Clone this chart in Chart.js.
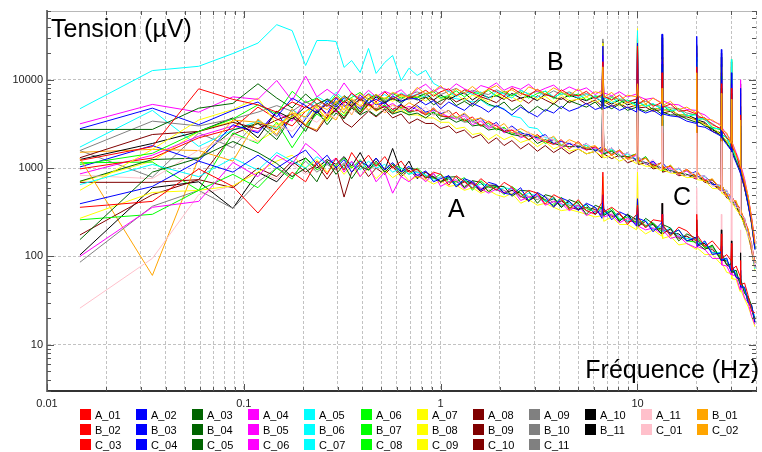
<!DOCTYPE html>
<html>
<head>
<meta charset="utf-8">
<script src="https://cdn.jsdelivr.net/npm/chart.js@4.4.1/dist/chart.umd.min.js"></script>
<style>
  html, body { margin: 0; padding: 0; background: #fff; }
</style>
</head>
<body>
<canvas id="spectre" width="762" height="452"></canvas>
<script>
// frequency of each sample (Hz)
const freq = [0.0147, 0.0343, 0.059, 0.088, 0.118, 0.147, 0.176, 0.206, 0.235, 0.265,
  0.294, 0.323, 0.353, 0.39, 0.43, 0.47, 0.52, 0.57, 0.63, 0.69,
  0.76, 0.84, 0.92, 1.0, 1.1, 1.2, 1.32, 1.45, 1.6, 1.75,
  1.92, 2.1, 2.3, 2.55, 2.8, 3.1, 3.4, 3.75, 4.1, 4.5,
  5.0, 5.5, 6.1, 6.6, 6.67, 6.74, 7.4, 8.1, 8.9, 9.9,
  10.0, 10.1, 11.0, 12.0, 13.25, 13.33, 13.42, 14.7, 16.2, 17.8,
  19.9, 20.0, 20.1, 22.0, 24.0, 26.55, 26.67, 26.8, 28.4, 29.85,
  30.0, 30.15, 31.7, 33.2, 33.33, 33.5, 35.0, 36.5, 38.0, 39.5];

// tension spectra (µV), group A
const A_01 = [360, 420, 980, 620, 310, 560, 900, 700, 1200, 850,
  1300, 950, 1500, 1100, 1400, 1050, 1350, 1000, 1200, 900,
  980, 760, 900, 850, 640, 820, 700, 590, 760, 650,
  560, 690, 610, 470, 560, 520, 390, 500, 450, 340,
  440, 330, 300, 410, 900, 320, 360, 310, 230, 300,
  380, 270, 210, 260, 250, 300, 230, 170, 215, 195,
  150, 300, 175, 130, 150, 115, 180, 95, 105, 90,
  140, 70, 78, 60, 90, 48, 50, 36, 24, 23];
const A_02 = [395, 620, 1200, 900, 1400, 1000, 1300, 1600, 1100, 1400,
  1000, 1250, 900, 1200, 1050, 1300, 950, 1150, 900, 1050,
  820, 930, 700, 760, 820, 610, 760, 700, 560, 690,
  650, 520, 500, 600, 420, 530, 470, 360, 460, 420,
  330, 400, 360, 270, 500, 350, 260, 320, 290, 220,
  450, 270, 250, 190, 240, 300, 220, 180, 200, 150,
  165, 180, 130, 150, 105, 110, 130, 90, 96, 68,
  90, 82, 58, 56, 70, 45, 45, 30, 28, 18];
const A_03 = [155, 900, 1300, 2000, 1500, 1130, 800, 1000, 700, 1200,
  850, 1100, 760, 1050, 950, 1200, 900, 1100, 850, 1000,
  960, 780, 800, 700, 790, 800, 600, 720, 690, 540,
  620, 620, 480, 560, 550, 400, 500, 470, 360, 440,
  400, 300, 380, 350, 380, 290, 330, 250, 300, 260,
  300, 220, 270, 235, 180, 240, 230, 210, 150, 180,
  160, 170, 140, 120, 135, 90, 120, 110, 80, 82,
  85, 66, 70, 48, 62, 56, 38, 35, 28, 18];
const A_04 = [100, 360, 420, 1160, 800, 1400, 1100, 1900, 1500, 1100,
  1300, 900, 1200, 800, 1050, 700, 900, 520, 800, 700,
  860, 700, 880, 620, 700, 740, 580, 690, 590, 520,
  580, 520, 600, 430, 470, 500, 380, 420, 400, 330,
  380, 290, 330, 300, 450, 280, 300, 240, 270, 230,
  320, 220, 200, 210, 180, 250, 200, 160, 170, 140,
  125, 190, 130, 120, 95, 95, 110, 80, 78, 62,
  80, 62, 60, 42, 70, 48, 34, 30, 21, 17];
const A_05 = [650, 1100, 800, 1300, 950, 1500, 1200, 1000, 1350, 1100,
  1250, 1000, 1150, 950, 1200, 1000, 1100, 900, 1000, 850,
  900, 840, 720, 800, 760, 640, 740, 600, 660, 640,
  560, 600, 580, 470, 520, 480, 420, 460, 380, 400,
  360, 380, 310, 350, 360, 300, 330, 270, 250, 290,
  280, 230, 260, 200, 220, 230, 190, 210, 170, 160,
  160, 160, 140, 145, 110, 110, 115, 95, 92, 72,
  80, 72, 66, 50, 60, 55, 40, 35, 25, 21];
const A_06 = [260, 300, 560, 850, 600, 1000, 750, 1300, 950, 1150,
  1050, 1300, 1000, 1250, 950, 1150, 900, 1100, 1000, 850,
  1000, 820, 760, 860, 690, 700, 780, 560, 720, 600,
  620, 500, 620, 520, 440, 520, 430, 380, 470, 350,
  420, 350, 320, 360, 400, 300, 350, 260, 280, 240,
  320, 270, 220, 240, 190, 270, 225, 175, 200, 150,
  145, 175, 165, 125, 130, 98, 125, 96, 92, 70,
  95, 80, 60, 55, 68, 46, 44, 31, 27, 19];
const A_07 = [270, 530, 560, 630, 900, 1200, 1400, 1000, 1250, 900,
  1100, 850, 1050, 800, 1000, 760, 950, 780, 900, 720,
  800, 740, 660, 720, 620, 640, 560, 600, 520, 560,
  500, 470, 520, 400, 440, 380, 400, 360, 330, 340,
  320, 300, 280, 290, 800, 250, 280, 230, 230, 200,
  900, 210, 180, 200, 170, 220, 160, 170, 135, 140,
  120, 160, 125, 105, 105, 82, 105, 85, 66, 64,
  70, 56, 55, 40, 52, 42, 33, 27, 21, 16];
const A_08 = [175, 500, 740, 600, 1000, 800, 1200, 900, 1100, 750,
  1050, 470, 900, 1100, 800, 1000, 850, 1050, 800, 950,
  780, 900, 800, 690, 760, 620, 700, 660, 540, 620,
  570, 520, 600, 480, 430, 480, 440, 370, 430, 360,
  340, 360, 340, 290, 420, 330, 280, 300, 250, 250,
  360, 220, 250, 200, 210, 230, 180, 205, 160, 170,
  140, 170, 155, 125, 120, 95, 110, 100, 80, 75,
  90, 68, 64, 50, 60, 52, 40, 33, 25, 20];
const A_09 = [86, 370, 560, 350, 700, 1000, 800, 1200, 900, 1100,
  950, 1150, 1000, 1200, 950, 1100, 1000, 1150, 900, 1000,
  900, 800, 860, 700, 760, 700, 620, 720, 580, 640,
  600, 560, 500, 560, 470, 440, 480, 400, 420, 380,
  380, 330, 360, 310, 380, 340, 290, 310, 240, 270,
  280, 240, 220, 240, 200, 240, 200, 200, 165, 170,
  150, 165, 150, 130, 125, 100, 112, 95, 90, 74,
  82, 74, 60, 56, 60, 48, 43, 32, 27, 20];
const A_10 = [104, 600, 700, 350, 900, 700, 1100, 1300, 1000, 1250,
  1100, 1350, 1050, 1500, 1000, 1300, 950, 1670, 900, 1200,
  760, 900, 780, 700, 820, 640, 720, 680, 560, 640,
  640, 520, 560, 520, 420, 520, 420, 450, 360, 420,
  340, 390, 300, 350, 500, 300, 330, 250, 300, 230,
  450, 250, 220, 230, 180, 400, 200, 185, 180, 150,
  160, 260, 140, 140, 110, 108, 200, 90, 90, 70,
  150, 76, 58, 54, 110, 50, 42, 30, 26, 18];
const A_11 = [26, 95, 500, 630, 900, 750, 1100, 850, 1000, 1200,
  950, 1150, 900, 1100, 950, 1050, 900, 1000, 850, 950,
  940, 720, 800, 760, 700, 720, 600, 680, 600, 560,
  640, 540, 540, 500, 480, 460, 440, 420, 390, 380,
  370, 350, 320, 330, 700, 310, 310, 270, 260, 250,
  1000, 240, 230, 210, 200, 400, 210, 185, 175, 160,
  150, 600, 145, 135, 115, 104, 300, 95, 88, 74,
  1500, 78, 60, 55, 200, 52, 40, 34, 25, 21];

// group B
const B_01 = [1290, 61, 1300, 3500, 3300, 2900, 4200, 3800, 5200, 4600,
  5600, 6500, 5100, 7000, 5900, 6800, 6100, 7200, 6600, 6400,
  8200, 6900, 7400, 8600, 6700, 7900, 7100, 8400, 7000, 7800,
  8600, 7200, 7700, 6600, 8300, 7600, 6900, 8100, 7300, 6600,
  7900, 6400, 7300, 7000, 14000, 6300, 7200, 5800, 6700, 6400,
  9000, 6600, 5300, 6200, 5400, 8000, 5100, 5700, 4600, 4900,
  4200, 12000, 4500, 3600, 3500, 3000, 7000, 2700, 2500, 1900,
  6000, 2000, 1400, 1150, 3500, 1050, 720, 480, 270, 145];
const B_02 = [1220, 1750, 7900, 6000, 5200, 4300, 5600, 4800, 6100, 5000,
  6400, 5400, 7100, 5800, 6900, 5600, 7300, 6000, 6900, 6200,
  6800, 7600, 6500, 7300, 7900, 6600, 7700, 7100, 6400, 8000,
  7300, 6500, 8100, 7000, 6600, 7800, 6800, 6400, 7700, 6800,
  6600, 7400, 6100, 6700, 16000, 6500, 5900, 6700, 5500, 6100,
  24000, 5300, 6000, 5000, 5500, 12000, 4900, 5300, 4400, 4500,
  4100, 14000, 3800, 3700, 3100, 2800, 9000, 2700, 2200, 2000,
  8000, 1750, 1450, 1000, 4000, 1050, 650, 470, 260, 140];
const B_03 = [2790, 4770, 3100, 4500, 5600, 3800, 6200, 5100, 4200, 5800,
  4900, 6300, 5200, 6700, 5500, 6000, 5300, 6600, 5700, 6100,
  6100, 5200, 5800, 4700, 5600, 5000, 4500, 5400, 4900, 4300,
  5100, 4600, 4000, 4900, 4300, 3800, 4600, 4200, 5000, 4400,
  4800, 5400, 4600, 4900, 24000, 4700, 5100, 4500, 4900, 4300,
  26000, 4600, 4200, 4500, 3900, 33000, 4100, 3900, 3800, 3400,
  3200, 31000, 3000, 2900, 2600, 2300, 22000, 2200, 1850, 1600,
  12000, 1500, 1150, 900, 8000, 850, 600, 380, 240, 120];
const B_04 = [2740, 2740, 4770, 5400, 9000, 6200, 4800, 6900, 5300, 6000,
  5200, 6600, 5700, 4300, 6100, 6800, 5600, 6200, 5400, 6500,
  5900, 6400, 5200, 5800, 6300, 5100, 5700, 5000, 6000, 5300,
  4900, 5600, 4500, 5200, 4200, 5000, 4400, 5400, 4700, 5800,
  5300, 4900, 5600, 4600, 12000, 5200, 4700, 5300, 4500, 4900,
  18000, 4700, 4400, 4800, 4100, 15000, 4300, 4000, 4000, 3600,
  3300, 12000, 3400, 3000, 2800, 2300, 8000, 2300, 1900, 1650,
  7000, 1600, 1200, 950, 3000, 900, 600, 390, 240, 125];
const B_05 = [3170, 5260, 4300, 6400, 6000, 9800, 5800, 11000, 6400, 7800,
  6600, 9200, 7000, 6100, 7600, 6400, 7400, 6800, 7700, 6300,
  7800, 8900, 7300, 8200, 7600, 9000, 7900, 7200, 8600, 8100,
  9200, 7600, 8400, 7800, 8900, 7300, 8000, 8700, 7400, 8300,
  7500, 8100, 6800, 7600, 19000, 7100, 6600, 7300, 6400, 6900,
  21000, 6500, 6000, 6200, 5500, 16000, 5800, 5300, 5200, 4600,
  4500, 13000, 4300, 4000, 3400, 3100, 10000, 2900, 2400, 2100,
  9000, 2000, 1500, 1150, 10000, 1100, 760, 470, 280, 150];
const B_06 = [4700, 12700, 14200, 19800, 26000, 42000, 36000, 14500, 27800, 27800,
  27100, 13800, 16500, 12100, 22600, 11800, 15700, 18800, 9800, 13500,
  11200, 12800, 9100, 8200, 7400, 6400, 7600, 6800, 7300, 6100,
  7400, 6900, 6200, 7600, 6900, 6300, 7500, 6400, 6900, 7100,
  6200, 6800, 6400, 5700, 9500, 6300, 5500, 6100, 5800, 5100,
  36000, 5700, 5000, 5400, 4600, 14000, 5200, 4500, 4600, 3900,
  4000, 18000, 3500, 3700, 2800, 2800, 9000, 2300, 2300, 1650,
  17000, 1700, 1250, 1050, 3000, 880, 680, 390, 260, 120];
const B_07 = [1100, 1470, 2600, 3600, 5200, 4100, 7400, 5500, 6200, 5000,
  6800, 5600, 6300, 7200, 5900, 6600, 6000, 7000, 6200, 6700,
  6200, 7000, 7300, 6300, 6600, 7500, 6400, 7300, 6800, 7600,
  6500, 7400, 6600, 7300, 6200, 7000, 7400, 6100, 7200, 6400,
  6900, 5900, 6600, 6300, 15000, 5600, 6300, 5500, 5900, 5200,
  20000, 5600, 5000, 5300, 4700, 13000, 5100, 4400, 4700, 3900,
  4100, 15000, 3600, 3600, 2900, 2700, 11000, 2400, 2200, 1700,
  10000, 1800, 1250, 1050, 4500, 920, 670, 400, 260, 128];
const B_08 = [560, 1630, 3500, 4600, 6200, 3100, 3800, 4400, 5000, 3400,
  5800, 4500, 6200, 5000, 6600, 5300, 6300, 5700, 6500, 5900,
  6500, 5700, 6900, 6000, 6300, 6900, 5800, 6700, 6200, 5600,
  7000, 6100, 6400, 5600, 7100, 6000, 6500, 5500, 6700, 5800,
  6000, 6400, 5500, 6000, 26000, 5400, 5800, 5100, 5600, 4900,
  38000, 5000, 5300, 4500, 4900, 17000, 4400, 4700, 4000, 4000,
  3400, 16000, 3500, 3100, 2900, 2400, 14000, 2300, 2000, 1650,
  17000, 1600, 1200, 940, 6000, 900, 600, 410, 235, 125];
const B_09 = [1310, 2400, 2600, 3300, 2800, 3500, 4100, 3000, 2600, 3800,
  4500, 3700, 5000, 4100, 5300, 4500, 5000, 4200, 5200, 4600,
  5400, 6300, 5900, 5200, 6500, 5600, 6200, 5300, 6400, 6000,
  5500, 6500, 5700, 6200, 5400, 6600, 5900, 5300, 6300, 5500,
  6100, 5300, 5900, 5000, 22000, 5700, 5000, 5400, 4800, 5200,
  25000, 4800, 4900, 4400, 4600, 18000, 4200, 4400, 3800, 3800,
  3500, 17000, 3300, 3200, 2600, 2400, 12000, 2200, 1950, 1600,
  9000, 1550, 1200, 900, 5000, 870, 590, 380, 230, 120];
const B_10 = [1580, 3400, 3000, 3600, 4300, 5100, 4400, 5600, 4900, 6100,
  5400, 6500, 5700, 6300, 5300, 6600, 5800, 6400, 6000, 6800,
  7300, 6600, 7700, 6800, 7400, 8000, 6900, 7600, 7100, 6800,
  7700, 7000, 6700, 7600, 6900, 7400, 6600, 7500, 6800, 7300,
  6500, 7000, 6300, 6800, 29000, 6100, 6500, 5900, 5700, 6000,
  30000, 5500, 5700, 5200, 5000, 32000, 5100, 4800, 4700, 4200,
  4000, 25000, 4000, 3500, 3200, 2700, 20000, 2700, 2200, 1900,
  14000, 1800, 1400, 1050, 7000, 1000, 690, 440, 265, 135];
const B_11 = [1250, 1900, 2600, 3700, 2200, 4400, 3600, 5000, 4200, 5400,
  4600, 5800, 5000, 6100, 5300, 6400, 5500, 6100, 5700, 6300,
  6400, 7000, 5900, 6700, 6000, 6600, 7100, 5900, 6800, 6300,
  6600, 6000, 7000, 6200, 6500, 5800, 6900, 6300, 6000, 6700,
  6200, 5800, 6400, 5500, 27000, 5900, 5300, 5900, 5200, 5600,
  32000, 5000, 5300, 4600, 4800, 30000, 4500, 4600, 4000, 4000,
  3600, 24000, 3500, 3300, 2700, 2500, 18000, 2300, 2000, 1650,
  16000, 1600, 1200, 950, 9000, 900, 610, 400, 240, 122];

// group C
const C_01 = [830, 760, 1600, 2300, 2000, 3100, 2600, 3800, 3300, 4200,
  3700, 4800, 4100, 5300, 4400, 5000, 4300, 5100, 4600, 4900,
  4300, 4900, 3900, 4600, 4200, 3600, 4000, 3300, 3500, 2900,
  3200, 2700, 2900, 2300, 2600, 2000, 2300, 2100, 1750, 2000,
  1650, 1900, 1500, 1700, 5000, 1500, 1700, 1350, 1500, 1150,
  8000, 1350, 1100, 1250, 960, 3000, 1100, 900, 1000, 820,
  900, 2500, 780, 820, 620, 660, 2000, 540, 560, 420,
  14000, 480, 360, 350, 1500, 300, 270, 170, 140, 75];
const C_02 = [1510, 1630, 1580, 1200, 3600, 2400, 4700, 3000, 2700, 4100,
  3500, 5300, 4000, 6100, 4500, 5600, 4200, 5200, 4700, 5500,
  4900, 4100, 4700, 4000, 4500, 3700, 4200, 3500, 3700, 3300,
  2800, 3200, 2500, 2800, 2500, 2300, 2000, 2300, 1800, 2100,
  1900, 1700, 1800, 1500, 7000, 1750, 1400, 1600, 1250, 1450,
  9000, 1150, 1300, 1000, 1150, 4000, 950, 1080, 850, 960,
  780, 6000, 920, 700, 760, 560, 3500, 650, 480, 500,
  3000, 420, 430, 300, 2000, 350, 230, 205, 120, 86];
const C_03 = [980, 1300, 2200, 2800, 4900, 3600, 3000, 4400, 5300, 3900,
  5700, 4600, 6000, 5000, 5400, 4700, 5600, 4600, 5100, 4400,
  4500, 4000, 4800, 3900, 3800, 4300, 3400, 3800, 3000, 3400,
  3000, 2600, 2700, 2400, 2100, 2400, 2000, 1850, 2100, 1650,
  2000, 1600, 1750, 1550, 3500, 1650, 1400, 1600, 1300, 1450,
  6000, 1200, 1300, 1050, 1150, 2500, 1000, 1050, 870, 970,
  800, 3000, 900, 720, 740, 570, 2200, 640, 490, 500,
  2500, 470, 400, 350, 1500, 330, 260, 200, 135, 85];
const C_04 = [1030, 1800, 1200, 3100, 2500, 4400, 2200, 3600, 5200, 4100,
  6200, 5000, 5600, 4700, 6100, 5200, 5500, 4600, 5300, 4300,
  5100, 4300, 4600, 4100, 4500, 3600, 4100, 3300, 3700, 2900,
  3300, 2600, 3000, 2500, 2400, 2200, 2400, 1900, 2000, 1900,
  1700, 1900, 1550, 1750, 8000, 1500, 1700, 1350, 1500, 1200,
  12000, 1350, 1100, 1200, 980, 6000, 1150, 900, 1000, 820,
  920, 9000, 790, 820, 650, 650, 6000, 560, 560, 420,
  4000, 480, 370, 350, 3000, 300, 270, 175, 140, 76];
const C_05 = [710, 1250, 1300, 2700, 3200, 2100, 3900, 2600, 4500, 3100,
  4200, 3600, 4800, 4000, 4500, 3900, 4700, 4100, 4400, 4000,
  4200, 3700, 4300, 3500, 3700, 3300, 3600, 3000, 3100, 2700,
  2800, 2600, 2400, 2300, 2400, 1900, 2100, 1900, 1800, 1750,
  1750, 1650, 1600, 1550, 4500, 1450, 1550, 1350, 1350, 1250,
  7000, 1200, 1150, 1100, 1000, 3500, 1000, 930, 880, 850,
  800, 4000, 820, 720, 680, 570, 3000, 570, 500, 430,
  2200, 430, 370, 310, 1800, 300, 240, 180, 125, 76];
const C_06 = [860, 1400, 2300, 3000, 2600, 4200, 3400, 5800, 4500, 5200,
  4300, 5700, 4900, 6000, 5100, 5500, 4800, 5400, 4600, 5000,
  4600, 4100, 4500, 4200, 3800, 3600, 3900, 3100, 3400, 2800,
  3100, 2500, 2700, 2200, 2400, 2100, 2000, 2100, 1700, 1900,
  1750, 1600, 1700, 1450, 6000, 1650, 1400, 1550, 1250, 1400,
  5000, 1250, 1150, 1150, 990, 2800, 1000, 1000, 840, 930,
  760, 3500, 880, 740, 690, 560, 2500, 590, 480, 480,
  3500, 440, 380, 320, 2500, 320, 240, 190, 118, 80];
const C_07 = [1730, 4500, 1760, 2700, 3400, 2800, 4600, 3700, 6500, 5500,
  7200, 6000, 6800, 5800, 7000, 6200, 6800, 6000, 7100, 6300,
  6900, 6300, 6800, 6100, 6400, 6100, 5900, 5600, 5900, 5100,
  5000, 4700, 3900, 3700, 2900, 2800, 2200, 2200, 1850, 1900,
  1700, 1800, 1600, 1650, 9000, 1450, 1650, 1350, 1450, 1250,
  15000, 1300, 1150, 1150, 1000, 7000, 1100, 920, 980, 830,
  900, 11000, 800, 800, 650, 640, 9000, 560, 550, 420,
  8000, 480, 360, 340, 4000, 290, 265, 175, 135, 72];
const C_08 = [1150, 1170, 560, 2500, 1900, 3300, 1700, 2900, 4100, 3400,
  4600, 3900, 5100, 4300, 5500, 4600, 5200, 4400, 4900, 4200,
  4600, 4000, 4300, 3900, 3800, 3800, 3400, 3500, 3000, 3200,
  2700, 2900, 2400, 2600, 2100, 2300, 1900, 2100, 1800, 1900,
  1750, 1800, 1550, 1700, 5500, 1450, 1600, 1400, 1350, 1450,
  7000, 1150, 1350, 1000, 1150, 4500, 930, 1080, 850, 940,
  800, 5000, 900, 720, 740, 570, 4000, 640, 490, 480,
  5000, 410, 410, 310, 2500, 335, 230, 200, 122, 84];
const C_09 = [700, 1200, 2600, 3400, 2000, 2700, 4300, 3100, 4900, 3600,
  5000, 4100, 5400, 4300, 5100, 4400, 5000, 4200, 4600, 4000,
  4000, 3700, 3700, 3300, 3300, 2800, 2900, 2400, 2500, 2100,
  2400, 2100, 2300, 1950, 2100, 1750, 2000, 1650, 1800, 1550,
  1650, 1450, 1550, 1350, 14000, 1300, 1400, 1200, 1300, 1120,
  30000, 1150, 1050, 1050, 930, 9000, 960, 880, 860, 780,
  790, 8000, 740, 720, 590, 580, 7000, 520, 480, 400,
  6000, 410, 340, 300, 3000, 280, 230, 165, 120, 68];
const C_10 = [690, 690, 740, 2400, 3200, 2700, 3700, 3100, 4300, 3600,
  4700, 3300, 2900, 3600, 4400, 3800, 4600, 3700, 4100, 3200,
  3600, 3200, 3200, 2800, 3000, 2500, 2700, 2200, 2400, 1900,
  2200, 1800, 2050, 1650, 1900, 1550, 1800, 1500, 1700, 1450,
  1650, 1450, 1550, 1300, 18000, 1450, 1280, 1400, 1150, 1250,
  20000, 1100, 1150, 980, 1020, 6000, 900, 950, 820, 840,
  750, 7000, 810, 690, 660, 550, 5000, 580, 460, 440,
  4500, 400, 370, 290, 2500, 310, 220, 180, 115, 74];
const C_11 = [1580, 790, 2500, 1700, 3500, 2300, 4000, 3000, 4600, 3700,
  5200, 4200, 5800, 4600, 5300, 4500, 5100, 4400, 4800, 4300,
  4500, 4200, 4100, 3900, 3700, 3700, 3300, 3400, 3000, 3000,
  2800, 2800, 2500, 2400, 2300, 2200, 2000, 2100, 1800, 1900,
  1800, 1700, 1700, 1500, 10000, 1650, 1450, 1600, 1300, 1450,
  14000, 1200, 1350, 1050, 1150, 25000, 1000, 1050, 880, 940,
  820, 20000, 900, 740, 730, 590, 15000, 640, 500, 490,
  10000, 440, 410, 320, 5000, 330, 245, 200, 128, 85];

const seriesNames = ['A_01', 'A_02', 'A_03', 'A_04', 'A_05', 'A_06', 'A_07', 'A_08', 'A_09', 'A_10', 'A_11',
  'B_01', 'B_02', 'B_03', 'B_04', 'B_05', 'B_06', 'B_07', 'B_08', 'B_09', 'B_10', 'B_11',
  'C_01', 'C_02', 'C_03', 'C_04', 'C_05', 'C_06', 'C_07', 'C_08', 'C_09', 'C_10', 'C_11'];
const seriesValues = [A_01, A_02, A_03, A_04, A_05, A_06, A_07, A_08, A_09, A_10, A_11,
  B_01, B_02, B_03, B_04, B_05, B_06, B_07, B_08, B_09, B_10, B_11,
  C_01, C_02, C_03, C_04, C_05, C_06, C_07, C_08, C_09, C_10, C_11];

// colour cycle, repeats every 12 curves
const palette = ['#ff0000', '#0000ff', '#006400', '#ff00ff', '#00ffff', '#00ff00',
  '#ffff00', '#800000', '#808080', '#000000', '#ffc0cb', '#ffa500'];

const xDecades = [0.01, 0.1, 1, 10];
const yDecades = [1, 10, 100, 1000, 10000];
const xLabels = [0.01, 0.1, 1, 10];
const yLabels = [10, 100, 1000, 10000];

const X_MIN = 0.01, X_MAX = 40;
const Y_MIN = 3, Y_MAX = 60000;

const xTicks = [];
xDecades.forEach(d => { for (let m = 1; m <= 9; m++) { const v = +(d * m).toPrecision(3); if (v <= X_MAX) xTicks.push(v); } });
const yTicks = [];
yDecades.forEach(d => { for (let m = 1; m <= 9; m++) { const v = d * m; if (v >= Y_MIN && v <= Y_MAX) yTicks.push(v); } });

const datasets = seriesValues.map((vals, i) => ({
  label: seriesNames[i],
  data: freq.map((f, k) => ({x: f, y: vals[k]})),
  borderColor: palette[i % palette.length],
  backgroundColor: palette[i % palette.length],
  borderWidth: 1,
  pointRadius: 0,
  tension: 0,
  fill: false
}));

const FONT = '"Liberation Sans", Arial, Helvetica, sans-serif';

// inward ticks, frame, axis titles, group letters and the legend grid
const decor = {
  id: 'decor',
  afterDatasetsDraw(chart) {
    const {ctx, chartArea: a, scales: {x, y}} = chart;
    ctx.save();
    ctx.strokeStyle = '#b8b8b8';
    ctx.lineWidth = 1;
    ctx.beginPath();
    ctx.moveTo(a.left, a.top + 0.5);
    ctx.lineTo(a.right, a.top + 0.5);
    ctx.stroke();

    ctx.strokeStyle = '#555';
    ctx.beginPath();
    xTicks.forEach(v => {
      const px = Math.round(x.getPixelForValue(v)) + 0.5;
      const len = xLabels.includes(v) ? 7 : 4;
      ctx.moveTo(px, a.bottom); ctx.lineTo(px, a.bottom - len);
      ctx.moveTo(px, a.top); ctx.lineTo(px, a.top + len);
    });
    yTicks.forEach(v => {
      const py = Math.round(y.getPixelForValue(v)) + 0.5;
      const len = yLabels.includes(v) ? 7 : 4;
      ctx.moveTo(a.left, py); ctx.lineTo(a.left + len, py);
      ctx.moveTo(a.right, py); ctx.lineTo(a.right - len, py);
    });
    ctx.stroke();

    ctx.fillStyle = '#000';
    ctx.font = '25px ' + FONT;
    ctx.textBaseline = 'alphabetic';
    ctx.textAlign = 'left';
    ctx.fillText('Tension (µV)', 51, 37);
    ctx.fillText('A', 448, 217);
    ctx.fillText('B', 547, 70);
    ctx.fillText('C', 673, 205);
    ctx.textAlign = 'right';
    ctx.fillText('Fréquence (Hz)', 759, 378);
    ctx.restore();
  },
  afterDraw(chart) {
    const ctx = chart.ctx;
    ctx.save();
    ctx.font = '11px ' + FONT;
    ctx.textBaseline = 'alphabetic';
    ctx.textAlign = 'left';
    seriesNames.forEach((name, i) => {
      const col = i % 12, row = Math.floor(i / 12);
      const bx = Math.round(80 + col * 56.1), by = 409 + row * 15;
      ctx.fillStyle = palette[i % palette.length];
      ctx.fillRect(bx, by, 11, 11);
      ctx.fillStyle = '#000';
      ctx.fillText(name, bx + 15, by + 10);
    });
    ctx.restore();
  }
};

const gridColor = '#c2c2c2';

new Chart(document.getElementById('spectre'), {
  type: 'line',
  data: {datasets},
  plugins: [decor],
  options: {
    responsive: false,
    animation: false,
    events: [],
    layout: {padding: {top: 11, right: 0, bottom: 41, left: 0}},
    plugins: {
      legend: {display: false},
      tooltip: {enabled: false}
    },
    scales: {
      x: {
        type: 'logarithmic',
        min: X_MIN,
        max: X_MAX,
        afterBuildTicks: s => { s.ticks = xTicks.map(v => ({value: v})); },
        afterFit: s => { s.height = 20; },
        ticks: {
          autoSkip: false,
          maxRotation: 0,
          minRotation: 0,
          padding: 6,
          color: '#222',
          font: {family: FONT, size: 11},
          callback: v => xLabels.includes(v) ? String(v) : ''
        },
        grid: {color: gridColor, lineWidth: 1, drawTicks: false},
        border: {display: true, color: '#333', width: 2, dash: [3, 2]}
      },
      y: {
        type: 'logarithmic',
        min: Y_MIN,
        max: Y_MAX,
        afterBuildTicks: s => { s.ticks = yTicks.map(v => ({value: v})); },
        afterFit: s => { s.width = 47; },
        ticks: {
          autoSkip: false,
          padding: 4,
          color: '#222',
          font: {family: FONT, size: 11},
          callback: v => yLabels.includes(v) ? String(v) : ''
        },
        grid: {
          color: c => (c.tick && yLabels.includes(c.tick.value)) ? gridColor : 'rgba(0,0,0,0)',
          lineWidth: 1,
          drawTicks: false
        },
        border: {display: true, color: '#777', width: 2, dash: [3, 2]}
      }
    }
  }
});
</script>
</body>
</html>
